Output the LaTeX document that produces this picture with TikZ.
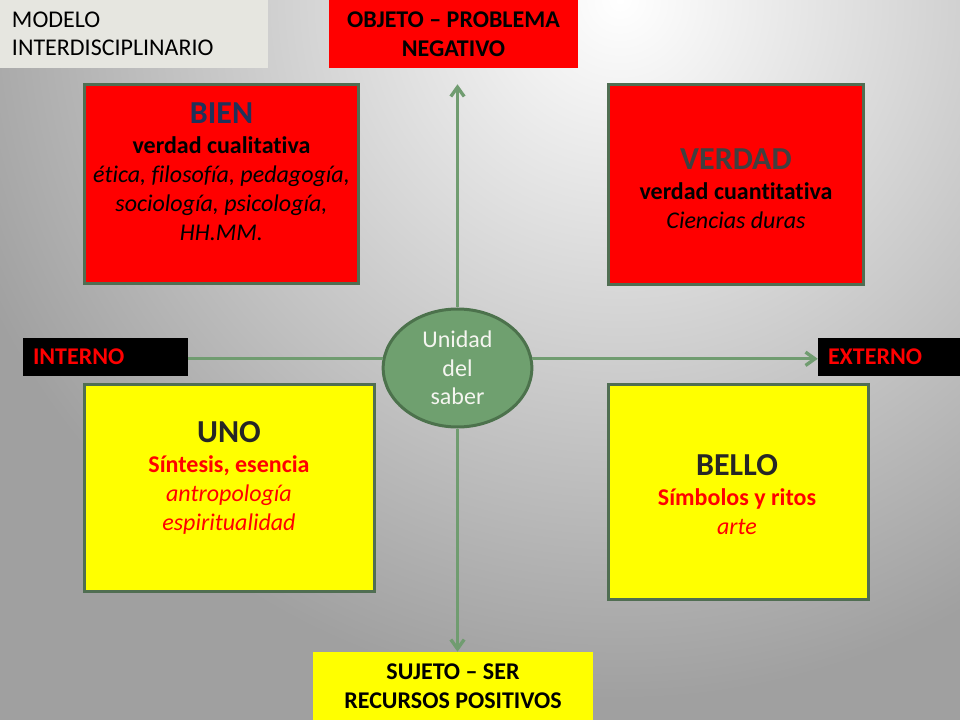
\documentclass[tikz,border=0pt]{standalone}
\usepackage{fontspec}
\setmainfont{Carlito}[Ligatures=NoCommon]
\usetikzlibrary{arrows.meta,shapes.geometric}

\definecolor{boxred}{RGB}{255,0,0}
\definecolor{boxyellow}{RGB}{255,255,0}
\definecolor{rimgreen}{RGB}{80,110,82}
\definecolor{axisgreen}{RGB}{112,156,112}
\definecolor{hubgreen}{RGB}{111,160,111}
\definecolor{hubrim}{RGB}{76,114,76}
\definecolor{hubtext}{RGB}{245,245,240}
\definecolor{paper}{RGB}{230,230,224}
\definecolor{backgray}{RGB}{160,160,160}
\definecolor{titlenavy}{RGB}{31,50,90}
\definecolor{titlegray}{RGB}{64,64,64}
\definecolor{titledark}{RGB}{38,38,38}

\begin{document}
\begin{tikzpicture}[x=0.75pt,y=-0.75pt,
    font=\fontsize{18}{21.75}\selectfont,
    >={Straight Barb[length=7pt,width=10pt]},
    pane/.style={draw=rimgreen,line width=2.25pt,inner sep=0pt},
    txt/.style={align=center,anchor=north,inner sep=0pt},
    tag/.style={inner sep=0pt,font=\fontsize{18}{21.4}\selectfont\bfseries},
    axis/.style={draw=axisgreen,line width=2.5pt}]
  \useasboundingbox (0,0) rectangle (960,720);
  \begin{scope}
    \clip (0,0) rectangle (960,720);
    \fill[backgray] (0,0) rectangle (960,720);
    \shade[inner color=white,outer color=backgray] (620,0) circle (525pt);
  \end{scope}

  \node[tag,fill=paper,font=\fontsize{18}{21.4}\selectfont,minimum height=51pt,text width=183pt,inner xsep=9pt,align=left] (modelo) at (134,34) {MODELO\\INTERDISCIPLINARIO};
  \node[tag,fill=boxred,minimum width=186.75pt,minimum height=51pt,align=center] (objeto) at (453.5,34) {OBJETO – PROBLEMA\\NEGATIVO};
  \node[tag,fill=boxyellow,minimum width=210pt,minimum height=51pt,align=center] (sujeto) at (453,686) {SUJETO – SER\\RECURSOS POSITIVOS};
  \node[tag,fill=black,text=boxred,minimum height=28.5pt,text width=108.75pt,inner xsep=7.5pt,align=left] (interno) at (105.5,357) {INTERNO};
  \node[tag,fill=black,text=boxred,minimum height=28.5pt,text width=91.5pt,inner xsep=7.5pt,align=left] (externo) at (889,357) {EXTERNO};

  \node[pane,fill=boxred,minimum width=205.5pt,minimum height=149.25pt] (bien) at (221.5,184) {};
  \node[txt] (bien text) at (221.5,102) {{\fontsize{24}{29}\selectfont\bfseries\color{titlenavy}BIEN}\\[1pt]
    \textbf{verdad cualitativa}\\ \textit{ética, filosofía, pedagogía,}\\ \textit{sociología, psicología,}\\ \textit{HH.MM.}};
  \node[pane,fill=boxred,minimum width=191.25pt,minimum height=150pt] (verdad) at (736,184.5) {};
  \node[txt] (verdad text) at (736,148) {{\fontsize{24}{29}\selectfont\bfseries\color{titlegray}VERDAD}\\[1pt]
    \textbf{verdad cuantitativa}\\ \textit{Ciencias duras}};
  \node[pane,fill=boxyellow,minimum width=217.5pt,minimum height=155.25pt] (uno) at (229.5,488) {};
  \node[txt,text=boxred] (uno text) at (229,421) {{\fontsize{24}{29}\selectfont\bfseries\color{titledark}UNO}\\[1pt]
    \textbf{Síntesis, esencia}\\ \textit{antropología}\\ \textit{espiritualidad}};
  \node[pane,fill=boxyellow,minimum width=195pt,minimum height=161.25pt] (bello) at (738.5,492) {};
  \node[txt,text=boxred] (bello text) at (737,454) {{\fontsize{24}{29}\selectfont\bfseries\color{titledark}BELLO}\\[1pt]
    \textbf{Símbolos y ritos}\\ \textit{arte}};

  \node[ellipse,draw=hubrim,line width=2.25pt,fill=hubgreen,text=hubtext,minimum width=111.5pt,minimum height=88.5pt,inner sep=0pt,align=center,font=\fontsize{18}{21.5}\selectfont] (hub) at (457.5,368) {Unidad\\del\\saber};

  \draw[axis,->,shorten >=12pt] (hub.north) -- (hub.north |- objeto.south);
  \draw[axis,->] (hub.south) -- (hub.south |- sujeto.north);
  \draw[axis] (hub.173 -| interno.east) -- (hub.173);
  \draw[axis,->] (hub.7) -- (hub.7 -| externo.west);
\end{tikzpicture}
\end{document}
